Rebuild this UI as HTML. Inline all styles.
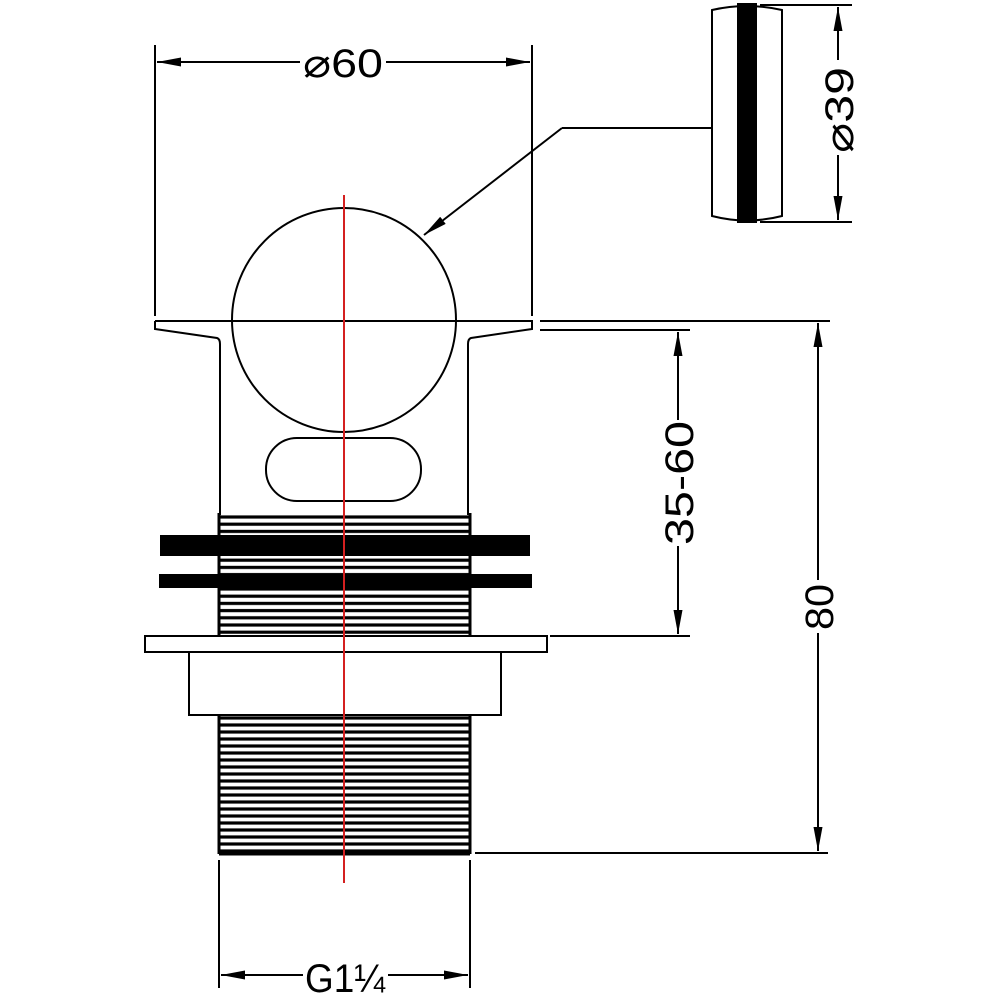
<!DOCTYPE html>
<html><head><meta charset="utf-8"><style>html,body{margin:0;padding:0;background:#fff}svg{display:block}</style></head><body>
<svg width="1000" height="1000" viewBox="0 0 1000 1000" xmlns="http://www.w3.org/2000/svg">
<defs>
<pattern id="thr" patternUnits="userSpaceOnUse" x="0" y="515" width="10" height="7.2">
<line x1="0" y1="2" x2="10" y2="2" stroke="#000" stroke-width="3.2"/>
</pattern>
<pattern id="thr2" patternUnits="userSpaceOnUse" x="0" y="716" width="10" height="7">
<line x1="0" y1="2" x2="10" y2="2" stroke="#000" stroke-width="3.2"/>
</pattern>
<marker id="ar" viewBox="0 0 24 10" refX="24" refY="5" markerWidth="24" markerHeight="10" markerUnits="userSpaceOnUse" orient="auto"><path d="M0,0.5 L24,5 L0,9.5z" fill="#000"/></marker>
</defs>
<g fill="none" stroke="#000" stroke-width="2">
<line x1="155" y1="45" x2="155" y2="316"/>
<line x1="532" y1="45" x2="532" y2="316"/>
<line x1="300" y1="62" x2="157" y2="62" marker-end="url(#ar)"/>
<line x1="386" y1="62" x2="530" y2="62" marker-end="url(#ar)"/>
<path d="M155,321 H532 V329 L471,338 Q468,339 468,344 V515 M220,515 V344 Q220,339 217,338 L155,329 V321"/>
<circle cx="344" cy="320" r="112" fill="#fff"/>
<line x1="155" y1="321" x2="532" y2="321"/>
<rect x="266" y="438" width="155" height="63" rx="31"/>
<rect x="219" y="513" width="251" height="122" fill="url(#thr)" stroke="none"/>
<line x1="219" y1="513" x2="219" y2="636" stroke-width="3"/>
<line x1="470" y1="513" x2="470" y2="636" stroke-width="3"/>
<rect x="160" y="535" width="370" height="21" fill="#000" stroke="none"/>
<rect x="159" y="574" width="373" height="14" fill="#000" stroke="none"/>
<rect x="145" y="636" width="402" height="16" fill="#fff"/>
<rect x="189" y="652" width="312" height="63" fill="#fff"/>
<rect x="219" y="716" width="251" height="138" fill="url(#thr2)" stroke="none"/>
<line x1="219" y1="716" x2="219" y2="854" stroke-width="3"/>
<line x1="470" y1="716" x2="470" y2="854" stroke-width="3"/>
<line x1="219" y1="854" x2="470" y2="854" stroke-width="3"/>
<polyline points="713,128 562,128"/>
<line x1="562" y1="128" x2="424" y2="235" marker-end="url(#ar)"/>
<path d="M712,10 Q747,2 782,10 V216 Q747,225 712,216 Z"/>
<rect x="737" y="3" width="20" height="220" fill="#000" stroke="none"/>
<line x1="760" y1="5" x2="852" y2="5"/>
<line x1="760" y1="222" x2="852" y2="222"/>
<line x1="838" y1="60" x2="838" y2="7" marker-end="url(#ar)"/>
<line x1="838" y1="155" x2="838" y2="220" marker-end="url(#ar)"/>
<line x1="540" y1="321" x2="830" y2="321"/>
<line x1="540" y1="330" x2="690" y2="330"/>
<line x1="550" y1="636" x2="690" y2="636"/>
<line x1="475" y1="853" x2="828" y2="853"/>
<line x1="678" y1="420" x2="678" y2="332" marker-end="url(#ar)"/>
<line x1="678" y1="546" x2="678" y2="634" marker-end="url(#ar)"/>
<line x1="818" y1="580" x2="818" y2="323" marker-end="url(#ar)"/>
<line x1="818" y1="633" x2="818" y2="851" marker-end="url(#ar)"/>
<line x1="219" y1="860" x2="219" y2="988"/>
<line x1="470" y1="860" x2="470" y2="988"/>
<line x1="303" y1="975" x2="221" y2="975" marker-end="url(#ar)"/>
<line x1="388" y1="975" x2="468" y2="975" marker-end="url(#ar)"/>
</g>
<line x1="344" y1="195" x2="344" y2="883" stroke="#d42020" stroke-width="2"/>
<g font-family="Liberation Sans, sans-serif" font-size="40" fill="#000">
<text x="343" y="77" text-anchor="middle" textLength="80" lengthAdjust="spacingAndGlyphs">⌀60</text>
<text transform="translate(853,110) rotate(-90)" text-anchor="middle" textLength="86" lengthAdjust="spacingAndGlyphs">⌀39</text>
<text transform="translate(693,483) rotate(-90)" text-anchor="middle" textLength="124" lengthAdjust="spacingAndGlyphs">35-60</text>
<text transform="translate(833,607) rotate(-90)" text-anchor="middle" textLength="46" lengthAdjust="spacingAndGlyphs">80</text>
<text x="345" y="992" text-anchor="middle" textLength="80" lengthAdjust="spacingAndGlyphs">G1¼</text>
</g>
</svg>
</body></html>
